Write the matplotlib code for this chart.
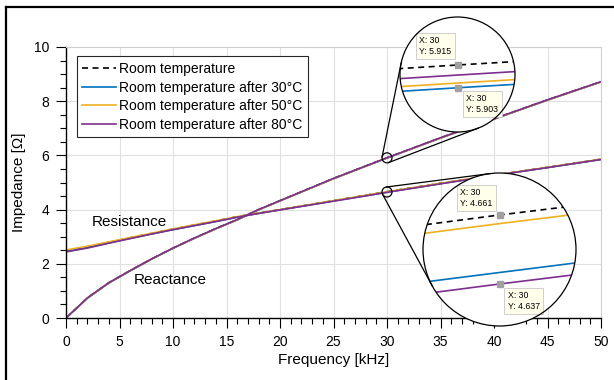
import numpy as np
import matplotlib
matplotlib.use("Agg")
import matplotlib.pyplot as plt
from matplotlib.patches import Circle, Ellipse
from matplotlib.lines import Line2D

plt.rcParams['font.family'] = ['Liberation Sans', 'DejaVu Sans']

# Data
freq = [0, 2, 4, 6, 8, 10, 12, 14, 16, 18, 20, 25, 30, 35, 40, 45, 50]

res_room = [2.47, 2.63, 2.79, 2.96, 3.12, 3.28, 3.43, 3.58, 3.74, 3.87, 4.00, 4.33, 4.661, 4.97, 5.27, 5.56, 5.86]
res_30 = [2.45, 2.60, 2.77, 2.94, 3.10, 3.26, 3.41, 3.56, 3.72, 3.86, 3.99, 4.32, 4.641, 4.96, 5.26, 5.55, 5.85]
res_50 = [2.51, 2.65, 2.81, 2.97, 3.13, 3.29, 3.44, 3.59, 3.74, 3.87, 4.00, 4.33, 4.658, 4.97, 5.27, 5.56, 5.86]
res_80 = [2.44, 2.58, 2.76, 2.93, 3.10, 3.26, 3.41, 3.56, 3.72, 3.86, 3.99, 4.31, 4.637, 4.95, 5.26, 5.55, 5.85]

reac_room = [0, 0.74, 1.30, 1.75, 2.18, 2.58, 2.95, 3.30, 3.63, 4.00, 4.33, 5.15, 5.915, 6.65, 7.35, 8.05, 8.72]
reac_30 = [0, 0.73, 1.29, 1.74, 2.17, 2.57, 2.94, 3.29, 3.62, 3.99, 4.32, 5.14, 5.903, 6.64, 7.34, 8.04, 8.71]
reac_50 = [0, 0.74, 1.29, 1.75, 2.17, 2.58, 2.94, 3.29, 3.62, 3.99, 4.32, 5.14, 5.9055, 6.64, 7.34, 8.04, 8.71]
reac_80 = [0, 0.74, 1.30, 1.75, 2.18, 2.58, 2.95, 3.30, 3.63, 4.00, 4.33, 5.15, 5.9097, 6.65, 7.35, 8.05, 8.72]

labels = ["Room temperature", "Room temperature after 30°C",
          "Room temperature after 50°C", "Room temperature after 80°C"]
colors = ["black", "#0072BD", "#EDB120", "#7E2F8E"]
styles = [(0, (3.6, 2.7)), "-", "-", "-"]
res_all = [res_room, res_30, res_50, res_80]
reac_all = [reac_room, reac_30, reac_50, reac_80]

# data tips shown in the zoom circles
tip_x = 30
tip_reac = [5.915, 5.903]
tip_res = [4.661, 4.637]

W, H = 614, 380
fig = plt.figure(figsize=(W / 100, H / 100), dpi=100)
ax = fig.add_axes([66 / W, 1 - 318 / H, 535 / W, 271 / H])

for i in range(4):
    ax.plot(freq, res_all[i], color=colors[i], ls=styles[i], lw=1.2, label=labels[i])
    ax.plot(freq, reac_all[i], color=colors[i], ls=styles[i], lw=1.2)

ax.set_xlim(0, 50)
ax.set_ylim(0, 10)
ax.set_xticks(np.arange(0, 51, 5))
ax.set_xticks(np.arange(0, 51, 1), minor=True)
ax.set_yticks(np.arange(0, 11, 2))
ax.set_yticks(np.arange(0, 10.1, 0.5), minor=True)
ax.grid(True, which='major', color='#E0E0E0', lw=0.8)
ax.set_axisbelow(True)
ax.tick_params(which='major', direction='out', length=7, width=0.8, labelsize=10, pad=5)
ax.tick_params(which='minor', direction='out', length=4, width=0.8)
for s in ['top', 'right']:
    ax.spines[s].set_color('#D0D0D0')
for s in ['left', 'bottom']:
    ax.spines[s].set_linewidth(1.0)
ax.set_xlabel("Frequency [kHz]", fontsize=11, labelpad=3)
ax.set_ylabel("Impedance [Ω]", fontsize=11, labelpad=6)

ax.text(5.9, 3.54, "Resistance", fontsize=11, ha='center', va='center')
ax.text(9.7, 1.4, "Reactance", fontsize=11, ha='center', va='center')

leg = ax.legend(loc='upper left', bbox_to_anchor=(0.02, 0.965), borderaxespad=0,
                fontsize=10, handlelength=2.45, handletextpad=0.2,
                labelspacing=0.33, fancybox=False, framealpha=1, borderpad=0.4)
leg.get_frame().set_edgecolor('#262626')
leg.get_frame().set_linewidth(0.8)


def make_zoom(cx, cy, r, xlim, ylim, y_small, tips, offsets):
    # inset axes as a circle, centre (cx, cy) and radius r in pixels from the top left
    left = (cx - r) / W
    bottom = 1 - (cy + r) / H
    ins = fig.add_axes([left, bottom, 2 * r / W, 2 * r / H])
    ins.set_axis_off()
    bg = Circle((0.5, 0.5), 0.5, transform=ins.transAxes, facecolor='white',
                edgecolor='none', zorder=0)
    ins.add_patch(bg)
    for i in range(4):
        for series in (res_all[i], reac_all[i]):
            ln, = ins.plot(freq, series, color=colors[i], ls=styles[i], lw=1.2)
            ln.set_clip_path(bg)
    ins.set_xlim(*xlim)
    ins.set_ylim(*ylim)
    for val, (dx, dy, ha, va) in zip(tips, offsets):
        ins.plot([tip_x], [val], 's', color='#A0A0A0', ms=3.8, mec='#A0A0A0', zorder=5)
        ins.annotate("X: %d\nY: %.3f" % (tip_x, val), xy=(tip_x, val),
                     xytext=(dx, dy), textcoords='offset pixels', ha=ha, va=va,
                     multialignment='left',
                     fontsize=6.3, annotation_clip=False, zorder=6, linespacing=1.3,
                     bbox=dict(boxstyle='square,pad=0.35', fc='#FFFFEB', ec='#C8C8C8', lw=0.6))
    outline = Circle((0.5, 0.5), 0.5, transform=ins.transAxes, facecolor='none',
                     edgecolor='black', lw=0.9, zorder=10, clip_on=False)
    ins.add_patch(outline)

    # small circle on the main axes plus the two tangent lines
    fig.canvas.draw()
    px, py = ax.transData.transform((tip_x, y_small))
    rs = 5.0
    fig.add_artist(Ellipse((px / W, py / H), 2 * rs / W, 2 * rs / H, transform=fig.transFigure,
                           facecolor='none', edgecolor='black', lw=0.9, zorder=10))
    c1 = np.array([px, py])
    c2 = np.array([cx, H - cy])
    d = c2 - c1
    D = np.hypot(*d)
    th = np.arctan2(d[1], d[0])
    beta = np.arccos((r - rs) / D)
    for sgn in (1, -1):
        phi = th + sgn * beta
        n = np.array([np.cos(phi), np.sin(phi)])
        p1 = c1 - rs * n
        p2 = c2 - r * n
        fig.add_artist(Line2D([p1[0] / W, p2[0] / W], [p1[1] / H, p2[1] / H],
                              transform=fig.transFigure, color='black', lw=0.9, zorder=9))


make_zoom(457.5, 74.5, 57.5, (29.9877, 30.0123), (5.8797, 5.9403), 5.91, tip_reac,
          [(-6, 9, 'right', 'bottom'), (9, -6, 'left', 'top')])
make_zoom(499.5, 249.5, 76.5, (29.9475, 30.0525), (4.6224, 4.6756), 4.65, tip_res,
          [(-7, 7, 'right', 'bottom'), (8, -7, 'left', 'top')])

# frame around the figure (left and top edges visible)
fig.add_artist(Line2D([5.5 / W, 5.5 / W], [0, 1 - 6.5 / H], transform=fig.transFigure,
                      color='black', lw=1.6))
fig.add_artist(Line2D([5.5 / W, 1], [1 - 6.5 / H, 1 - 6.5 / H], transform=fig.transFigure,
                      color='black', lw=1.6))

fig.savefig("out.png", dpi=100)
